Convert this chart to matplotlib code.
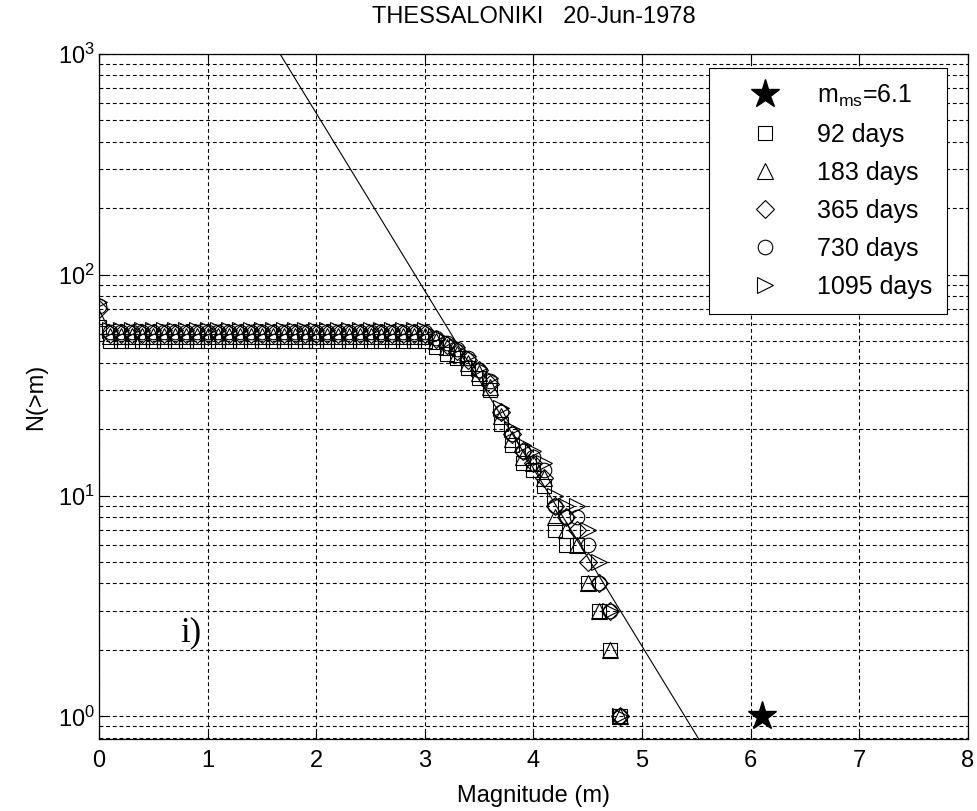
import matplotlib
matplotlib.use('Agg')
import matplotlib.pyplot as plt
import numpy as np

plt.rcParams['font.family'] = ['Liberation Sans', 'DejaVu Sans']
plt.rcParams['mathtext.fontset'] = 'custom'
plt.rcParams['mathtext.rm'] = 'Liberation Sans'
plt.rcParams['mathtext.it'] = 'Liberation Sans'

# Magnitudes (pas de 0.1)
mag = [0.0, 0.1, 0.2, 0.3, 0.4, 0.5, 0.6, 0.7, 0.8, 0.9,
       1.0, 1.1, 1.2, 1.3, 1.4, 1.5, 1.6, 1.7, 1.8, 1.9,
       2.0, 2.1, 2.2, 2.3, 2.4, 2.5, 2.6, 2.7, 2.8, 2.9,
       3.0, 3.1, 3.2, 3.3, 3.4, 3.5, 3.6, 3.7, 3.8, 3.9,
       4.0, 4.1, 4.2, 4.3, 4.4, 4.5, 4.6, 4.7, 4.8]

# N(>m) pour chaque fenetre de temps
n_92 = [58, 50, 50, 50, 50, 50, 50, 50, 50, 50,
        50, 50, 50, 50, 50, 50, 50, 50, 50, 50,
        50, 50, 50, 50, 50, 50, 50, 50, 50, 50,
        50, 47, 44, 42, 38, 34, 30, 21, 17, 14,
        13, 11, 7, 6, 6, 4, 3, 2, 1]
n_183 = [64, 53, 53, 53, 53, 53, 53, 53, 53, 53,
         53, 53, 53, 53, 53, 53, 53, 53, 53, 53,
         53, 53, 53, 53, 53, 53, 53, 53, 53, 53,
         53, 50, 47, 44, 40, 36, 31, 23, 18, 15,
         14, 12, 8, 7, 6, 4, 3, 2, 1]
n_365 = [70, 54, 54, 54, 54, 54, 54, 54, 54, 54,
         54, 54, 54, 54, 54, 54, 54, 54, 54, 54,
         54, 54, 54, 54, 54, 54, 54, 54, 54, 54,
         54, 51, 48, 45, 41, 37, 32, 24, 19, 16,
         14, 12, 9, 8, 7, 5, 4, 3, 1]
n_730 = [72, 55, 55, 55, 55, 55, 55, 55, 55, 55,
         55, 55, 55, 55, 55, 55, 55, 55, 55, 55,
         55, 55, 55, 55, 55, 55, 55, 55, 55, 55,
         55, 52, 49, 46, 42, 37, 33, 24, 19, 16,
         15, 13, 9, 8, 8, 6, 4, 3, 1]
n_1095 = [75, 56, 56, 56, 56, 56, 56, 56, 56, 56,
          56, 56, 56, 56, 56, 56, 56, 56, 56, 56,
          56, 56, 56, 56, 56, 56, 56, 56, 56, 56,
          56, 53, 50, 47, 43, 38, 34, 25, 20, 17,
          16, 14, 10, 9, 9, 7, 5, 3, 1]

labels = ['92 days', '183 days', '365 days', '730 days', '1095 days']
markers = ['s', '^', 'D', 'o', '>']
tailles = [10.5, 11.5, 9, 10.5, 11.5]

# Choc principal
m_main = [6.1]
n_main = [1]

# Droite de Gutenberg-Richter log10 N = a - b m
a_gr = 4.342
b_gr = 0.805
m_fit = [0, 8]

fs = 17

fig = plt.figure(figsize=(9.78, 8.11), dpi=100)
ax = fig.add_axes([0.1012, 0.0888, 0.8886, 0.8446])

ax.plot(m_main, n_main, linestyle='none', marker='*', color='k', markersize=21,
        label=r'm$_{\mathrm{ms}}$=6.1')
series = [n_92, n_183, n_365, n_730, n_1095]
for n, lab, mk, ms in zip(series, labels, markers, tailles):
    ax.plot(mag, n, linestyle='none', marker=mk, markersize=ms, markerfacecolor='none',
            markeredgecolor='k', markeredgewidth=0.8, label=lab)

n_fit = [10 ** (a_gr - b_gr * x) for x in m_fit]
ax.plot(m_fit, n_fit, color='k', linewidth=0.8)

ax.set_yscale('log')
ax.set_xlim(0, 8)
ax.set_ylim(0.79, 1000)
ax.set_xticks([0, 1, 2, 3, 4, 5, 6, 7, 8])

ax.grid(True, which='major', axis='both', color='k', linestyle=(0, (3.5, 2.5)), linewidth=0.8)
ax.grid(True, which='minor', axis='y', color='k', linestyle=(0, (3.5, 2.5)), linewidth=0.8)
ax.tick_params(which='both', direction='in', labelsize=fs, top=True, right=True)
ax.tick_params(which='minor', length=0)
ax.tick_params(which='major', length=6)
ax.tick_params(axis='x', pad=8)
ax.tick_params(axis='y', pad=3)
for s in ax.spines.values():
    s.set_linewidth(0.9)

ax.set_xlabel('Magnitude (m)', fontsize=fs, labelpad=9)
ax.set_ylabel('N(>m)', fontsize=fs, labelpad=8)
ax.set_title('THESSALONIKI   20-Jun-1978', fontsize=fs, pad=22)

ax.text(0.85, 2.4, 'i)', fontsize=25, family='Liberation Serif', ha='center', va='center')

leg = ax.legend(loc='upper right', bbox_to_anchor=(0.9758, 0.9796), fontsize=18,
                fancybox=False, framealpha=1, edgecolor='k', handletextpad=0.4,
                labelspacing=0.56, borderpad=0.6, handlelength=3.3, borderaxespad=0)
leg.get_frame().set_linewidth(0.8)

fig.savefig('out.png', dpi=100)
